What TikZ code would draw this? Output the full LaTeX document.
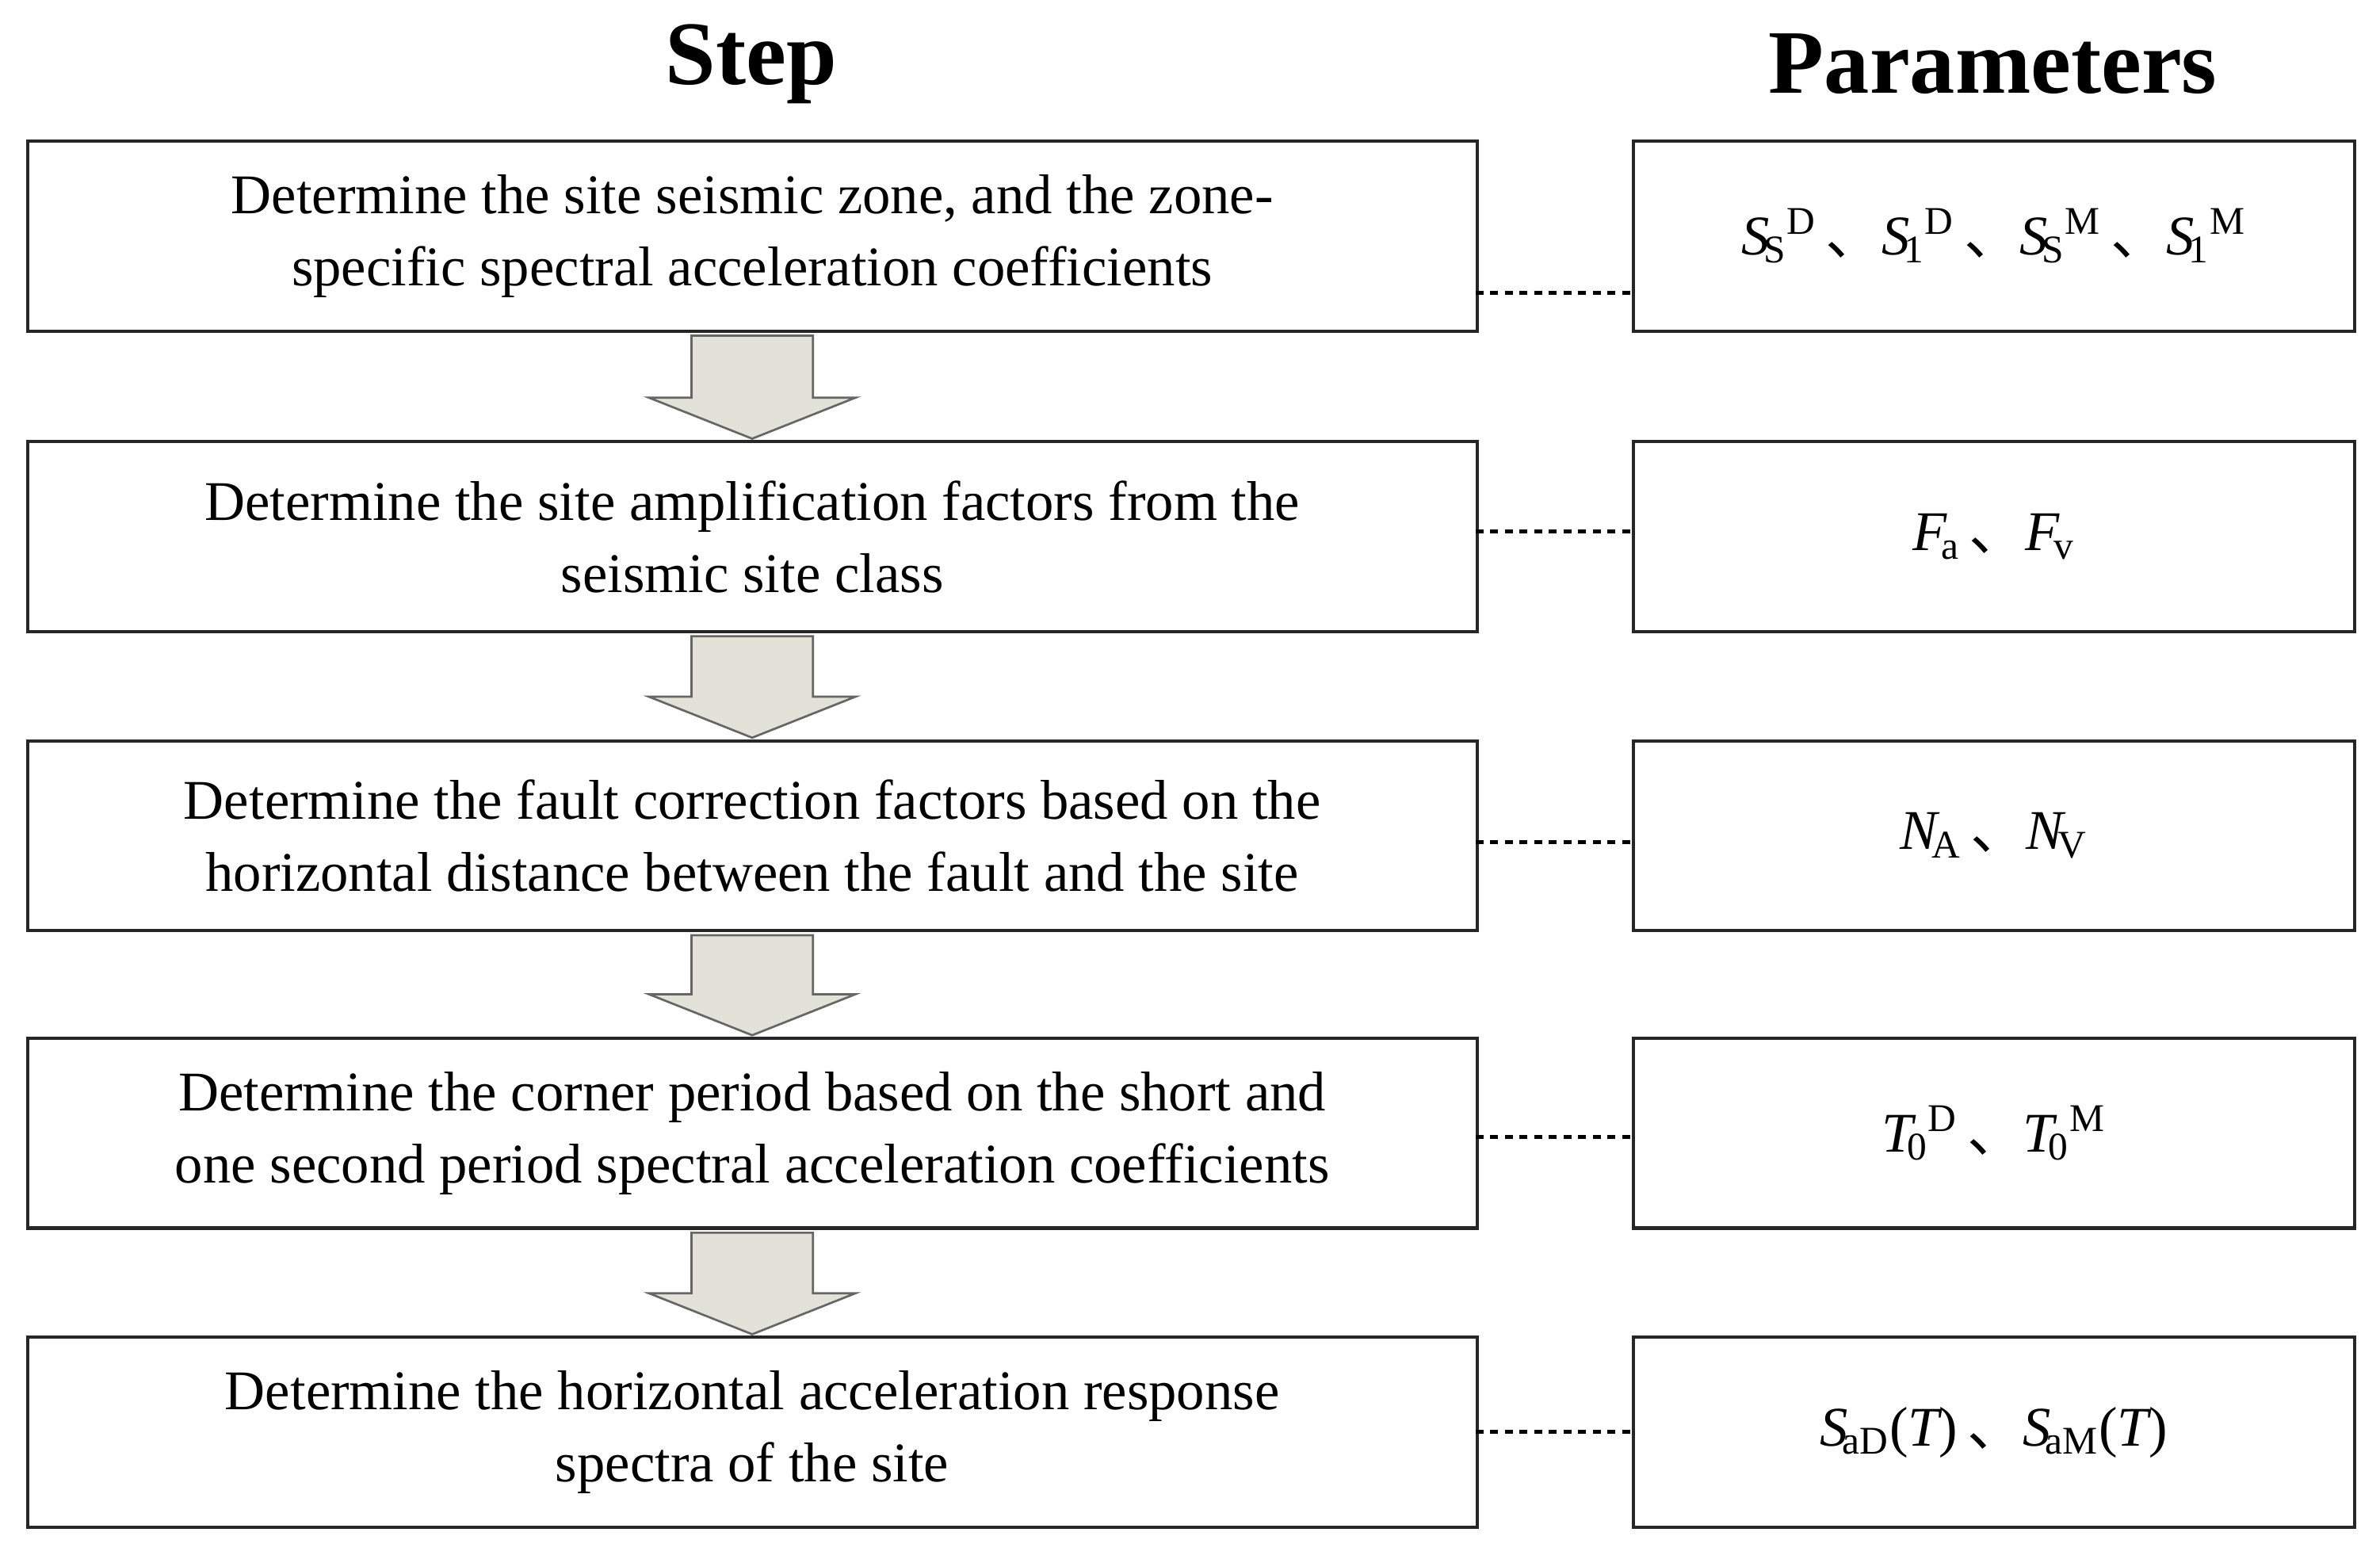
\documentclass[tikz,border=0pt]{standalone}
\usepackage{fontspec}
\setmainfont{Liberation Serif}
\newfontfamily\cjk{Noto Sans CJK SC}
\usetikzlibrary{positioning,calc}
\newcommand{\sep}{\,{\cjk 、}}
\newcommand{\ssub}[1]{\textsubscript{\kern-0.15em #1}}
\newcommand{\ssup}[1]{\textsuperscript{#1}}
\begin{document}
\begin{tikzpicture}[x=0.02cm,y=-0.02cm,
  stepbox/.style={draw=black!85,line width=1.2pt,minimum width=955*0.02cm,minimum height=125*0.02cm,align=center,font=\fontsize{21}{27}\selectfont,anchor=north west,inner sep=0pt},
  parbox/.style={draw=black!85,line width=1.2pt,minimum width=475*0.02cm,minimum height=125*0.02cm,align=center,font=\fontsize{21}{27}\selectfont,anchor=north west,inner sep=0pt},
  dotline/.style={line width=1.5pt,dash pattern=on 3pt off 2.5pt},
  barrow/.style={fill=olive!20!gray!25,draw=gray!80!black,line width=0.8pt},
  title/.style={font=\bfseries\fontsize{34}{40}\selectfont}]
\useasboundingbox (0,0) rectangle (1568,1027);
\node[title] (t1) at (495,42) {Step};
\node[title] (t2) at (1313,42) {Parameters};
\node[stepbox] (s1) at (17,92) {Determine the site seismic zone, and the zone-\\specific spectral acceleration coefficients};
\node[stepbox] (s2) at (17,290) {Determine the site amplification factors from the\\seismic site class};
\node[stepbox] (s3) at (17,487) {Determine the fault correction factors based on the\\horizontal distance between the fault and the site};
\node[stepbox] (s4) at (17,683) {Determine the corner period based on the short and\\one second period spectral acceleration coefficients};
\node[stepbox] (s5) at (17,880) {Determine the horizontal acceleration response\\spectra of the site};
\node[parbox] (p1) at (1075,92) {{\itshape S}\ssub{S}\ssup{D}\sep{\itshape S}\ssub{1}\ssup{D}\sep{\itshape S}\ssub{S}\ssup{M}\sep{\itshape S}\ssub{1}\ssup{M}};
\node[parbox] (p2) at (1075,290) {{\itshape F}\ssub{a}\sep{\itshape F}\ssub{v}};
\node[parbox] (p3) at (1075,487) {{\itshape N}\ssub{A}\sep{\itshape N}\ssub{V}};
\node[parbox] (p4) at (1075,683) {{\itshape T}\ssub{0}\ssup{D}\sep{\itshape T}\ssub{0}\ssup{M}};
\node[parbox] (p5) at (1075,880) {{\itshape S}\ssub{aD}({\itshape T})\sep{\itshape S}\ssub{aM}({\itshape T})};
\draw[dotline] (972,193) -- (1075,193);
\draw[dotline] (972,350) -- (1075,350);
\draw[dotline] (972,555) -- (1075,555);
\draw[dotline] (972,749) -- (1075,749);
\draw[dotline] (972,943) -- (1075,943);
\foreach \a/\b in {s1/s2,s2/s3,s3/s4,s4/s5}{
  \path (\a.south) ++(0,2) coordinate (A);
  \path (\b.north) ++(0,-1) coordinate (B);
  \draw[barrow] ($(A)+(-40,0)$) -- ($(A)+(40,0)$) -- ($(B)+(40,-27)$) -- ($(B)+(68,-27)$) -- (B) -- ($(B)+(-68,-27)$) -- ($(B)+(-40,-27)$) -- cycle;
}
\end{tikzpicture}
\end{document}
